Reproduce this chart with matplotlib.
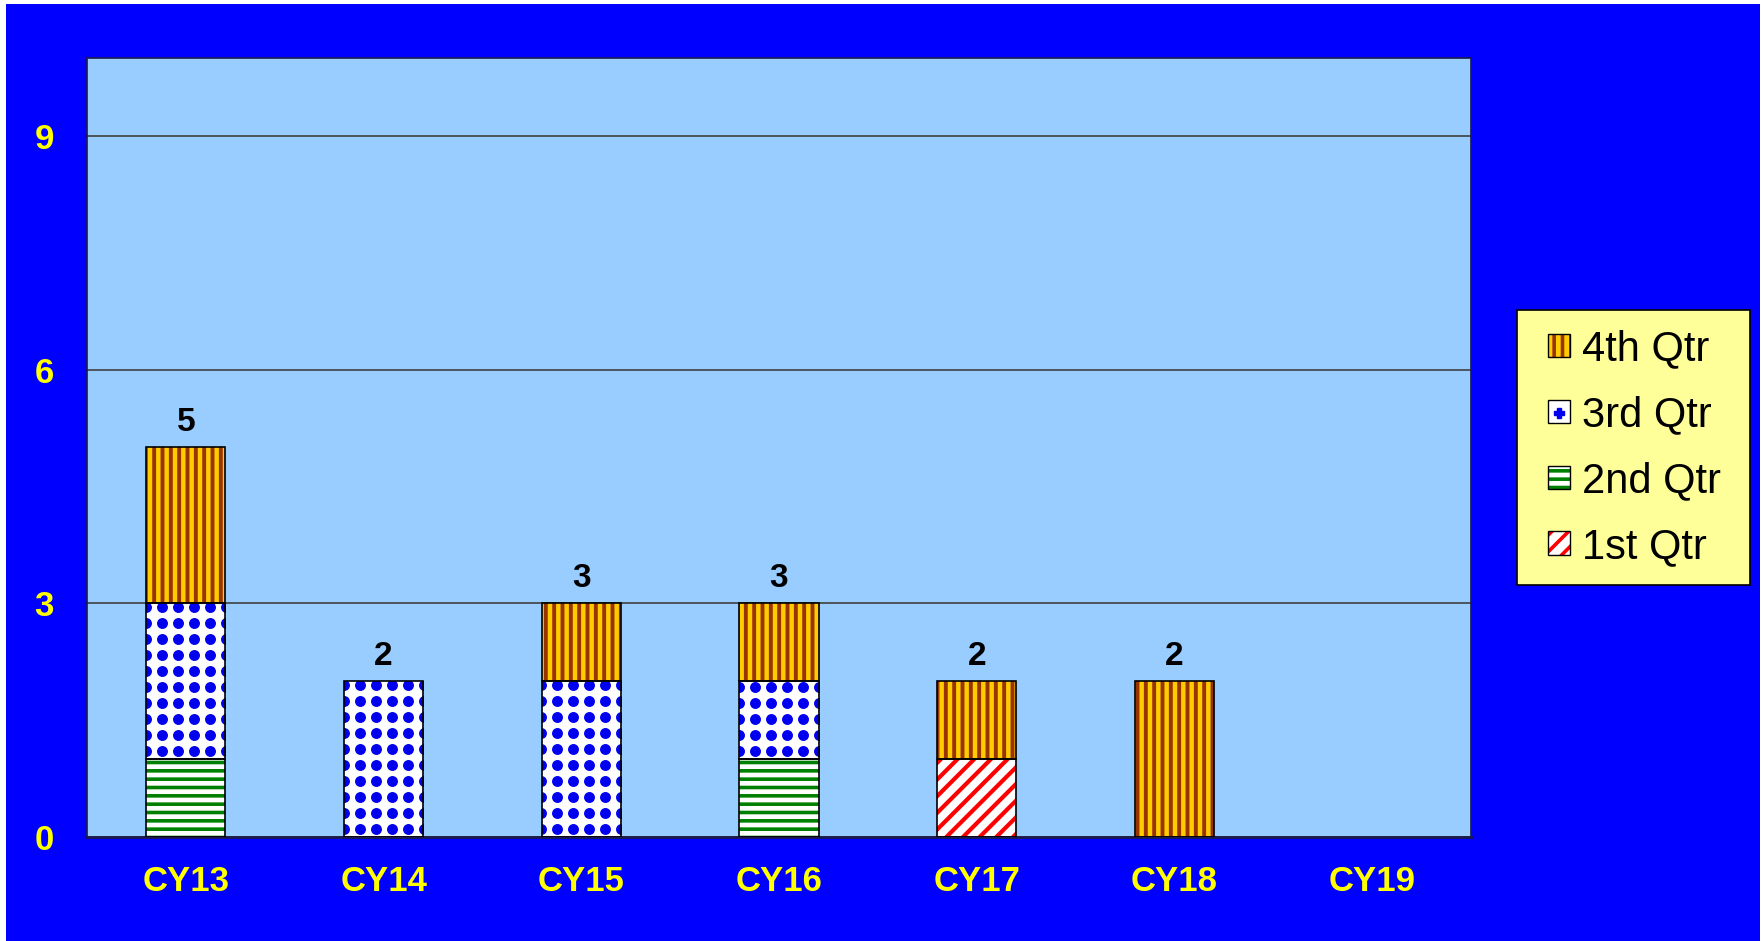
import numpy as np
import matplotlib
matplotlib.use('Agg')
import matplotlib.pyplot as plt
from matplotlib.patches import Rectangle, Patch
from matplotlib.lines import Line2D

years = ['CY13', 'CY14', 'CY15', 'CY16', 'CY17', 'CY18', 'CY19']
q1 = [0, 0, 0, 0, 1, 0, 0]
q2 = [1, 0, 0, 1, 0, 0, 0]
q3 = [2, 2, 2, 1, 0, 0, 0]
q4 = [2, 0, 1, 1, 1, 2, 0]
series_names = ['1st Qtr', '2nd Qtr', '3rd Qtr', '4th Qtr']
yticks = [0, 3, 6, 9]

plt.rcParams['font.family'] = ['Liberation Sans', 'DejaVu Sans']
plt.rcParams['hatch.linewidth'] = 2.6

W, H, DPI = 1765, 941, 100
fig = plt.figure(figsize=(W / DPI, H / DPI), dpi=DPI, facecolor='white')
fig.add_artist(Rectangle((6 / W, 0), (1760 - 6) / W, (H - 4) / H,
                         transform=fig.transFigure, facecolor='#0000FF',
                         edgecolor='none', zorder=-10))

ax_rect = [87 / W, 1 - 837 / H, (1471 - 87) / W, (837 - 58) / H]
ax = fig.add_axes(ax_rect)
ax.set_facecolor('#99CCFF')

# base colour, hatch colour, hatch, hatch linewidth
styles = {
    '1st Qtr': ('white', '#FF0000', '//', 3.0),
    '2nd Qtr': ('white', '#008000', '--', 2.6),
    '3rd Qtr': ('white', 'white', None, 1.0),
    '4th Qtr': ('#FFCC00', '#993300', '||', 2.8),
}

x = np.arange(len(years))
width = 0.4
ylim = 10
px_x = W * ax_rect[2] / len(years)
px_y = H * ax_rect[3] / ylim
dx, dy = 16 / px_x, 16 / px_y

bottoms = np.zeros(len(years))
for name, vals in zip(series_names, [q1, q2, q3, q4]):
    vals = np.array(vals, dtype=float)
    base, hc, hatch, hlw = styles[name]
    with plt.rc_context({'hatch.linewidth': hlw}):
        bars = ax.bar(x, vals, width, bottom=bottoms, color=base, edgecolor=hc,
                      hatch=hatch, linewidth=0, zorder=2)
    for b in bars:
        if hasattr(b, 'set_hatch_linewidth'):
            b.set_hatch_linewidth(hlw)
    if name == '3rd Qtr':
        for b in bars:
            if b.get_height() <= 0:
                continue
            xc = b.get_x() + b.get_width() / 2
            cols = xc + dx * (np.arange(-3, 3) + 0.5)
            rows = b.get_y() + dy * (np.arange(int(b.get_height() / dy) + 2) + 0.5)
            gx, gy = np.meshgrid(cols, rows)
            sc = ax.scatter(gx.ravel(), gy.ravel(), s=62, c='#0000EE', linewidths=0,
                            zorder=2.5)
            sc.set_clip_path(b)
    ax.bar(x, vals, width, bottom=bottoms, fill=False, edgecolor='black',
           linewidth=[1.2 if v > 0 else 0 for v in vals], zorder=3)
    bottoms += vals

totals = bottoms
for i, t in enumerate(totals):
    if t > 0:
        ax.annotate(f'{int(t)}', (x[i], t), xytext=(0, 12), textcoords='offset points',
                    ha='center', va='baseline', fontsize=24, fontweight='bold',
                    color='black', zorder=4)

ax.set_xlim(-0.5, len(years) - 0.5)
ax.set_ylim(0, ylim)
ax.set_xticks(x, years)
ax.set_yticks(yticks)
ax.tick_params(length=0, labelcolor='#FFFF00', labelsize=25)
ax.tick_params(axis='x', pad=20)
ax.tick_params(axis='y', pad=24)
plt.setp(ax.get_xticklabels() + ax.get_yticklabels(), fontweight='bold')
ax.yaxis.grid(True, color='#404040', linewidth=1.2)
ax.set_axisbelow(True)
for s in ax.spines.values():
    s.set_color('#1a1a4d')
    s.set_linewidth(1.2)
ax.spines['bottom'].set_linewidth(2)

# legend frame drawn separately so the side padding can differ from the top
fig.add_artist(Rectangle((1517 / W, 1 - 585 / H), (1750 - 1517) / W, (585 - 310) / H,
                         transform=fig.transFigure, facecolor='#FFFF99',
                         edgecolor='black', linewidth=1.2, zorder=1))

outline = dict(fill=False, edgecolor='black', linewidth=1)
handles = [
    (Patch(facecolor='#FFCC00', edgecolor='#993300', hatch='||', linewidth=0), Patch(**outline)),
    (Patch(facecolor='white', linewidth=0),
     Line2D([], [], marker='P', color='#0000EE', markersize=7, linestyle='none'),
     Patch(**outline)),
    (Patch(facecolor='white', edgecolor='#008000', hatch='--', linewidth=0), Patch(**outline)),
    (Patch(facecolor='white', edgecolor='#FF0000', hatch='//', linewidth=0), Patch(**outline)),
]
leg = fig.legend(handles, series_names[::-1], loc='center left',
                 bbox_to_anchor=(1548 / W, 1 - 448 / H), bbox_transform=fig.transFigure,
                 borderaxespad=0, borderpad=0, fontsize=30, frameon=False,
                 labelspacing=0.62, handlelength=0.53, handleheight=0.48,
                 handletextpad=0.29)
leg.set_zorder(2)

fig.savefig('out.png', dpi=DPI)
